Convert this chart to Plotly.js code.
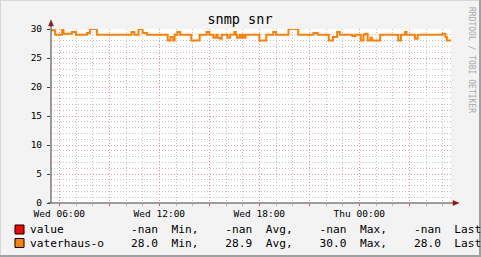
<!DOCTYPE html>
<html><head><meta charset="utf-8">
<script src="https://cdn.plot.ly/plotly-3.0.1.min.js"></script>
<style>html,body{margin:0;padding:0;background:#f3f3f3;}#chart{width:481px;height:257px;}</style>
</head><body><div id="chart"></div>
<script>
// ---- data ----
const times = [
"2024-01-03 05:30","2024-01-03 05:45","2024-01-03 06:10","2024-01-03 06:15","2024-01-03 06:45",
"2024-01-03 07:00","2024-01-03 07:40","2024-01-03 07:50","2024-01-03 08:15","2024-01-03 10:20",
"2024-01-03 10:30","2024-01-03 10:45","2024-01-03 11:00","2024-01-03 11:15","2024-01-03 12:30",
"2024-01-03 12:40","2024-01-03 12:50","2024-01-03 12:55","2024-01-03 13:05","2024-01-03 13:15",
"2024-01-03 13:55","2024-01-03 14:25","2024-01-03 14:50","2024-01-03 15:00","2024-01-03 15:15",
"2024-01-03 15:25","2024-01-03 15:30","2024-01-03 15:40","2024-01-03 15:45","2024-01-03 16:05",
"2024-01-03 16:15","2024-01-03 16:30","2024-01-03 16:35","2024-01-03 16:40","2024-01-03 16:50",
"2024-01-03 16:55","2024-01-03 17:00","2024-01-03 17:05","2024-01-03 17:10","2024-01-03 18:00",
"2024-01-03 18:25","2024-01-03 18:50","2024-01-03 19:00","2024-01-03 19:45","2024-01-03 20:20",
"2024-01-03 21:15","2024-01-03 21:30","2024-01-03 22:10","2024-01-03 22:25","2024-01-03 22:40",
"2024-01-03 22:50","2024-01-03 23:35","2024-01-03 23:45","2024-01-04 00:05","2024-01-04 00:15",
"2024-01-04 00:20","2024-01-04 00:30","2024-01-04 00:40","2024-01-04 00:45","2024-01-04 01:15",
"2024-01-04 02:20","2024-01-04 02:30","2024-01-04 02:45","2024-01-04 02:50","2024-01-04 03:20",
"2024-01-04 03:30","2024-01-04 05:00","2024-01-04 05:10","2024-01-04 05:15","2024-01-04 05:30"
];
const snr = [
29.8,29.0,30.0,29.2,29.5,
29.0,29.3,30.0,29.0,29.5,
29.0,30.0,29.3,29.0,28.0,
28.6,28.0,29.0,29.5,29.0,
28.0,29.0,29.5,29.0,28.5,
29.0,28.5,28.3,29.0,28.5,
29.0,29.5,29.0,28.5,29.0,
28.5,29.0,28.5,29.0,28.0,
29.0,29.5,29.0,30.0,29.0,
29.3,29.0,28.0,28.6,29.5,
29.0,28.8,29.0,28.0,29.0,
29.2,28.0,28.5,28.0,29.0,
28.0,29.0,29.5,29.0,28.3,
29.0,29.2,28.6,28.0,28.0
];
const seriesNames = ["value", "vaterhaus-o"];
const seriesColors = ["#FF0000", "#FF8000"];
const statLabels = ["Min,", "Avg,", "Max,", "Last"];
const valueStats = ["-nan", "-nan", "-nan", "-nan"];
const vaterStats = ["28.0", "28.9", "30.0", "28.0"];
const xTickVals = ["2024-01-03 06:00","2024-01-03 09:00","2024-01-03 12:00","2024-01-03 15:00",
                   "2024-01-03 18:00","2024-01-03 21:00","2024-01-04 00:00","2024-01-04 03:00"];
const xTickText = ["Wed 06:00","","Wed 12:00","","Wed 18:00","","Thu 00:00",""];
const xRange = ["2024-01-03 05:30", "2024-01-04 05:30"];
const yRange = [0, 30];
const titleText = "snmp snr";
const sideText = "RRDTOOL / TOBI OETIKER";

// ---- layout helpers (pixel -> paper) ----
const W = 481, H = 257, L = 51, R = 451, T = 29, B = 203;
const px = x => (x - L) / (R - L);
const py = y => (B - y) / (B - T);
const MONO = "DejaVu Sans Mono";

function legendLine(name, stats) {
  let s = name.padEnd(15);
  stats.forEach((v, i) => { s += v.padStart(4) + "  " + statLabels[i] + (i < stats.length - 1 ? "    " : ""); });
  return s.replace(/ /g, "\u00a0");
}

const traces = [
  {x: [], y: [], type: "scatter", mode: "lines", name: seriesNames[0], line: {color: seriesColors[0], width: 2}},
  {x: times, y: snr, type: "scatter", mode: "lines", name: seriesNames[1],
   line: {color: seriesColors[1], width: 2, shape: "hv"}, cliponaxis: false}
];

const shapes = [];
// frame shading
shapes.push({type: "rect", xref: "paper", yref: "paper", x0: px(0), x1: px(481), y0: py(0), y1: py(1), fillcolor: "#d6d6d6", line: {width: 0}, layer: "below"});
shapes.push({type: "rect", xref: "paper", yref: "paper", x0: px(0), x1: px(1), y0: py(0), y1: py(257), fillcolor: "#d6d6d6", line: {width: 0}, layer: "below"});
shapes.push({type: "rect", xref: "paper", yref: "paper", x0: px(0), x1: px(481), y0: py(255), y1: py(257), fillcolor: "#a0a0a0", line: {width: 0}, layer: "below"});
shapes.push({type: "rect", xref: "paper", yref: "paper", x0: px(479), x1: px(481), y0: py(0), y1: py(257), fillcolor: "#a0a0a0", line: {width: 0}, layer: "below"});
// axis lines
shapes.push({type: "line", xref: "paper", yref: "paper", x0: px(51), x1: px(51), y0: py(203), y1: py(24), line: {color: "#404040", width: 1}, layer: "above"});
shapes.push({type: "line", xref: "paper", yref: "paper", x0: px(48), x1: px(455), y0: py(203), y1: py(203), line: {color: "#404040", width: 1}, layer: "above"});
// arrows
shapes.push({type: "path", xref: "paper", yref: "paper",
  path: `M ${px(48.5)} ${py(26)} L ${px(53.5)} ${py(26)} L ${px(51)} ${py(20)} Z`,
  fillcolor: "#8b1a1a", line: {color: "#8b1a1a", width: 0.5}, layer: "above"});
shapes.push({type: "path", xref: "paper", yref: "paper",
  path: `M ${px(453)} ${py(200.5)} L ${px(453)} ${py(205.5)} L ${px(459)} ${py(203)} Z`,
  fillcolor: "#8b1a1a", line: {color: "#8b1a1a", width: 0.5}, layer: "above"});
// legend swatches
[[225, 234], [238.5, 247.5]].forEach((r, i) => {
  shapes.push({type: "rect", xref: "paper", yref: "paper", x0: px(15), x1: px(24), y0: py(r[1]), y1: py(r[0]),
    fillcolor: seriesColors[i], line: {color: "#000000", width: 1}});
});

const annotations = [
  {xref: "paper", yref: "paper", x: px(30), y: py(229.5), xanchor: "left", yanchor: "middle", showarrow: false,
   text: legendLine(seriesNames[0], valueStats), font: {family: MONO, size: 11.2, color: "#000"}, borderpad: 0, borderwidth: 0},
  {xref: "paper", yref: "paper", x: px(30), y: py(243), xanchor: "left", yanchor: "middle", showarrow: false,
   text: legendLine(seriesNames[1], vaterStats), font: {family: MONO, size: 11.2, color: "#000"}, borderpad: 0, borderwidth: 0},
  {xref: "paper", yref: "paper", x: px(471), y: py(60), xanchor: "center", yanchor: "middle", showarrow: false,
   textangle: 90, text: sideText.replace(/ /g, "\u00a0"), font: {family: MONO, size: 8, color: "#a8a8a8"}, borderpad: 0, borderwidth: 0}
];

const layout = {
  width: W, height: H,
  margin: {l: L, r: W - R, t: T, b: H - B, pad: 0},
  paper_bgcolor: "#f3f3f3", plot_bgcolor: "#ffffff",
  showlegend: false,
  title: {text: titleText, font: {family: MONO, size: 13.5, color: "#000"},
          x: 240 / W, xref: "container", xanchor: "center", y: 1 - 19 / H, yref: "container", yanchor: "middle"},
  xaxis: {
    type: "date", range: xRange, tickmode: "array", tickvals: xTickVals, ticktext: xTickText,
    showgrid: true, gridcolor: "#e49a9a", griddash: "1px,2px", gridwidth: 1,
    ticks: "outside", ticklen: 2, tickcolor: "#c06060", zeroline: false, showline: false,
    tickfont: {family: MONO, size: 9.5, color: "#000"}, ticklabelstandoff: 0,
    minor: {dtick: 3600000, showgrid: true, gridcolor: "#c4c4c4", griddash: "1px,2px", gridwidth: 1,
            ticks: "outside", ticklen: 2, tickcolor: "#bbbbbb"},
    fixedrange: true
  },
  yaxis: {
    range: yRange, tickmode: "linear", tick0: 0, dtick: 5,
    showgrid: true, gridcolor: "#e49a9a", griddash: "1px,2px", gridwidth: 1,
    ticks: "outside", ticklen: 3, tickcolor: "#404040", zeroline: false, showline: false,
    tickfont: {family: MONO, size: 9.5, color: "#000"}, ticklabelstandoff: 3,
    minor: {dtick: 1, showgrid: true, gridcolor: "#c4c4c4", griddash: "1px,2px", gridwidth: 1},
    fixedrange: true
  },
  shapes: shapes,
  annotations: annotations
};

Plotly.newPlot("chart", traces, layout, {displayModeBar: false, staticPlot: true});
</script>
</body></html>
